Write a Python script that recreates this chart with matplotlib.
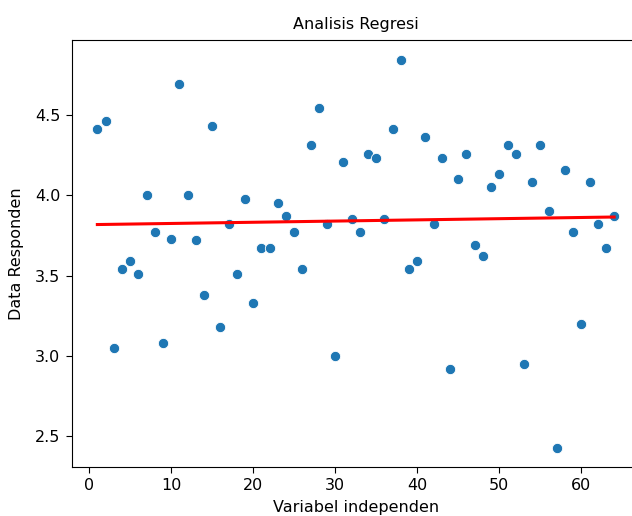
import numpy as np
import matplotlib
matplotlib.use("Agg")
import matplotlib.pyplot as plt

x_values = list(range(1, 65))
y_values = [4.41, 4.46, 3.05, 3.54, 3.59, 3.51, 4.00, 3.77, 3.08, 3.73,
            4.69, 4.00, 3.72, 3.38, 4.43, 3.18, 3.82, 3.51, 3.98, 3.33,
            3.67, 3.67, 3.95, 3.87, 3.77, 3.54, 4.31, 4.54, 3.82, 3.00,
            4.21, 3.85, 3.77, 4.26, 4.23, 3.85, 4.41, 4.84, 3.54, 3.59,
            4.36, 3.82, 4.23, 2.92, 4.10, 4.26, 3.69, 3.62, 4.05, 4.13,
            4.31, 4.26, 2.95, 4.08, 4.31, 3.90, 2.43, 4.16, 3.77, 3.20,
            4.08, 3.82, 3.67, 3.87]

x = np.array(x_values, dtype=float)
y = np.array(y_values)
slope, intercept = np.polyfit(x, y, 1)

plt.rcParams["font.size"] = 11.5
plt.rcParams["xtick.major.size"] = 4.5
plt.rcParams["ytick.major.size"] = 4.5

fig = plt.figure(figsize=(6.32, 5.16), dpi=100)
ax = fig.add_axes([71.5/632, 1-467/516, (640-71.5)/632, (467-40)/516])
ax.scatter(x, y, s=55, color="#1f77b4", edgecolors="white", linewidths=0.6, zorder=2)
ax.plot(x, slope*x + intercept, color="red", linewidth=2.2, zorder=3)
ax.set_xlim(-2.15, 67.15)
ax.set_ylim(2.31, 4.966)
ax.set_yticks([2.5, 3.0, 3.5, 4.0, 4.5])
ax.set_xticks([0, 10, 20, 30, 40, 50, 60])
ax.set_title("Analisis Regresi", fontsize=11.5, pad=8)
ax.set_xlabel("Variabel independen", labelpad=5)
ax.set_ylabel("Data Responden", labelpad=8)
fig.savefig("out.png", dpi=100)
